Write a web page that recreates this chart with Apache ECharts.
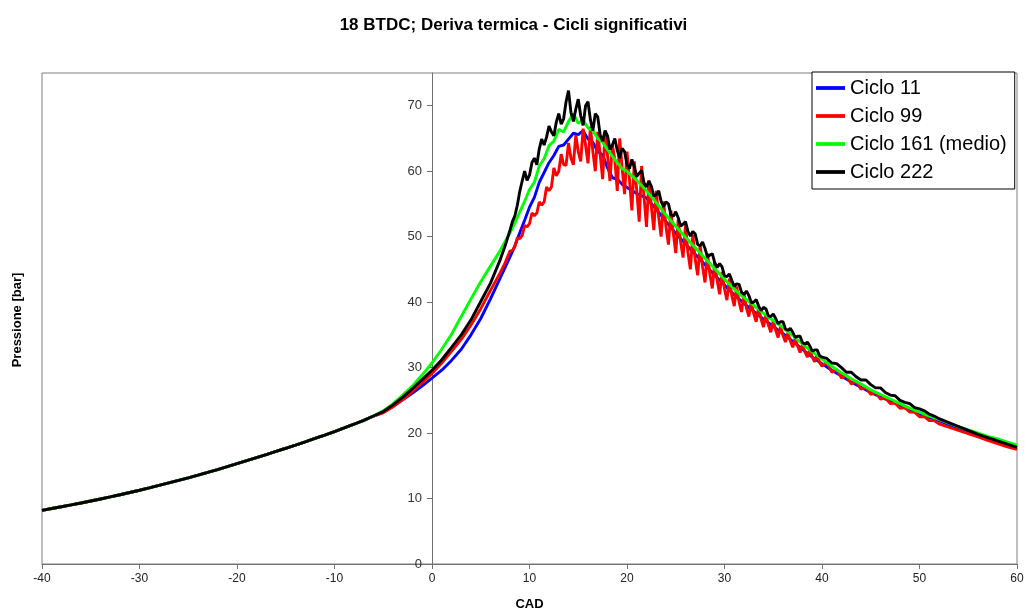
<!DOCTYPE html>
<html>
<head>
<meta charset="utf-8">
<script src="https://cdn.jsdelivr.net/npm/echarts@6/dist/echarts.min.js"></script>
<style>
html,body{margin:0;padding:0;background:#fff;}
#chart{width:1027px;height:616px;}
</style>
</head>
<body>
<div id="chart"></div>
<script>
// ---- Data ----
const titleText = '18 BTDC; Deriva termica - Cicli significativi';
const seriesNames = ['Ciclo 11', 'Ciclo 99', 'Ciclo 161 (medio)', 'Ciclo 222'];
const xTicks = [-40, -30, -20, -10, 0, 10, 20, 30, 40, 50, 60];
const yTicks = [0, 10, 20, 30, 40, 50, 60, 70];

// Compression stroke, shared by all cycles (curves overlap)
const cadComp = [-40,-39,-38,-37,-36,-35,-34,-33,-32,-31,-30,-29,-28,-27,-26,-25,-24,-23,-22,-21,
  -20,-19,-18,-17,-16,-15,-14,-13,-12,-11,-10,-9,-8,-7,-6];
const pComp   = [8.20,8.47,8.75,9.03,9.32,9.62,9.93,10.25,10.58,10.92,11.27,11.63,12.00,12.38,12.77,13.17,13.58,14.00,14.43,14.87,
  15.32,15.78,16.25,16.72,17.20,17.68,18.17,18.67,19.18,19.70,20.23,20.78,21.35,21.95,22.60];

// Grid for the smoother curves (Ciclo 11, Ciclo 161)
const cadSmooth = [-5,-4,-3,-2,-1,0,1,2,3,4,5,6,7,8,
  8.5,9,9.5,10,10.5,11,11.5,12,12.5,13,13.5,14,14.5,15,15.5,16,16.5,17,17.5,18,18.5,19,19.5,20,
  21,22,23,24,25,26,27,28,29,30,31,32,33,34,35,36,37,38,39,40,
  41,42,43,44,45,46,47,48,49,50,51,52,53,54,55,56,57,58,59,60];

const pCiclo11 = [23.2,24.1,25.1,26.1,27.2,28.4,29.6,31.1,32.8,35.0,37.5,40.5,43.7,46.9,
  48.6,50.6,52.5,54.5,56.0,58.3,59.8,61.3,62.4,63.8,64.0,64.9,65.8,65.6,66.2,64.9,64.4,63.0,62.5,60.5,59.0,58.8,58.0,57.5,
  56.6,55.9,54.2,52.3,50.5,48.9,47.3,45.7,44.1,42.6,41.1,39.8,38.6,37.4,36.3,35.2,34.0,32.8,31.6,30.6,
  29.6,28.7,27.8,27.0,26.2,25.5,24.9,24.2,23.5,22.9,22.4,21.9,21.3,20.8,20.3,19.8,19.3,18.8,18.3,17.8];

const pCiclo161 = [23.4,24.5,25.8,27.2,28.9,30.7,32.8,35.1,37.8,40.5,43.1,45.5,47.9,50.6,
  52.1,53.8,55.4,57.2,58.3,60.8,61.9,63.9,64.6,66.4,66.0,67.6,68.8,67.3,67.8,66.6,66.2,65.0,64.4,63.3,62.3,61.3,60.4,60.0,
  58.6,57.0,55.2,53.3,51.6,49.9,48.3,46.7,45.1,43.5,42.0,40.7,39.5,38.3,37.2,36.1,34.9,33.6,32.4,31.3,
  30.2,29.2,28.3,27.5,26.6,25.9,25.2,24.5,23.8,23.2,22.6,22.1,21.5,21.0,20.5,20.0,19.5,19.1,18.6,18.2];

// Fine grid for the noisy curves (Ciclo 99, Ciclo 222)
const cadFine = [-5,-4,-3,-2,-1,0,1,2,3,4,5,6,7,7.5,
  8,8.25,8.5,8.75, 9,9.25,9.5,9.75, 10,10.25,10.5,10.75, 11,11.25,11.5,11.75,
  12,12.25,12.5,12.75, 13,13.25,13.5,13.75, 14,14.25,14.5,14.75, 15,15.25,15.5,15.75,
  16,16.25,16.5,16.75, 17,17.25,17.5,17.75, 18,18.25,18.5,18.75, 19,19.25,19.5,19.75,
  20,20.25,20.5,20.75, 21,21.25,21.5,21.75, 22,22.25,22.5,22.75, 23,23.25,23.5,23.75,
  24,24.25,24.5,24.75, 25,25.25,25.5,25.75, 26,26.25,26.5,26.75, 27,27.25,27.5,27.75,
  28,28.25,28.5,28.75, 29,29.25,29.5,29.75, 30,30.25,30.5,30.75, 31,31.25,31.5,31.75,
  32,32.25,32.5,32.75, 33,33.25,33.5,33.75, 34,34.25,34.5,34.75, 35,35.25,35.5,35.75,
  36,36.25,36.5,36.75, 37,37.25,37.5,37.75, 38,38.25,38.5,38.75, 39,39.25,39.5,39.75, 40,
  40.5,41,41.5,42,42.5,43,43.5,44,44.5,45,45.5,46,46.5,47,47.5,48,48.5,49,49.5,50,50.5,51,51.5,52,
  53,54,55,56,57,58,59,60];

const pCiclo99 = [23.1,24.0,25.1,26.4,27.7,29.1,30.7,32.5,34.3,36.5,39.0,41.8,44.5,46.0,
  47.8,47.9,48.5,49.8, 49.7,50.2,51.7,51.5, 52.0,53.6,53.2,53.6, 55.3,54.8,55.3,57.6,
  57.0,57.6,60.5,59.3, 60.0,62.6,61.0,60.9, 64.3,62.0,61.0,65.5, 63.0,61.5,66.5,64.0,
  61.2,66.8,63.0,60.0, 66.0,62.5,58.8,65.8, 62.5,58.5,64.0,61.8, 57.0,65.0,60.5,56.5,
  63.0,58.8,54.0,61.5, 57.0,52.3,60.8,56.0, 51.5,58.6,54.6,51.0, 57.0,53.0,50.0,55.4,
  51.5,48.8,54.0,50.5, 47.5,52.6,49.2,46.8, 51.8,47.6,45.0,50.3, 46.5,44.1,48.8,45.4,
  43.0,47.4,44.3,42.1, 46.1,43.3,41.2,44.6, 42.0,40.3,43.6,41.0, 39.4,42.4,40.0,38.5,
  41.3,39.1,37.8,40.2, 38.2,37.0,39.2,37.4, 36.2,38.1,36.5,35.4, 37.2,35.7,34.6,36.2,
  34.9,33.9,35.3,34.1, 33.1,34.5,33.3,32.3, 33.6,32.4,31.6,32.8, 31.6,30.9,32.0,30.8, 30.2,
  30.9,29.3,29.7,28.4,28.8,27.5,27.9,26.7,27.0,25.9,26.2,25.2,25.4,24.5,24.6,23.8,23.9,23.2,23.2,22.5,22.5,21.9,21.9,21.4,
  20.9,20.4,19.9,19.4,18.9,18.4,17.9,17.5];

const pCiclo222 = [23.3,24.3,25.5,26.8,28.2,29.6,31.2,33.1,35.0,37.3,40.1,42.9,46.5,48.6,
  51.0,52.3,53.2,54.8, 56.9,58.5,60.0,58.6, 59.4,61.3,62.0,61.0, 63.4,64.9,64.0,65.2,
  66.9,66.0,65.4,67.5, 68.8,67.2,68.0,70.6, 72.3,69.0,67.6,69.5, 71.0,68.5,67.0,70.0,
  70.6,67.8,66.2,68.8, 68.3,65.5,64.6,66.2, 65.4,63.3,64.0,65.0, 63.2,62.0,63.5,63.0,
  61.0,60.4,61.8,60.6, 59.2,59.7,60.1,58.2, 57.6,58.5,57.7,56.2, 56.4,57.0,55.4,54.6,
  55.3,55.0,53.4,53.1, 53.8,52.9,51.6,51.9, 52.3,50.8,50.1,50.8, 50.4,48.8,48.6,49.2,
  48.2,46.9,47.2,47.4, 46.0,45.3,45.9,45.4, 44.0,43.9,44.3,43.3, 42.4,42.8,42.7,41.5,
  41.2,41.7,41.0,39.9, 40.0,40.4,39.4,38.7, 39.2,39.0,37.9,37.8, 38.2,37.5,36.7,37.0,
  37.0,35.9,35.7,36.0, 35.4,34.6,34.8,34.8, 33.8,33.6,33.9,33.3, 32.5,32.7,32.7,31.8, 31.6,
  31.4,30.7,30.6,30.0,29.3,29.3,28.6,28.1,28.1,27.4,26.9,26.9,26.2,25.8,25.7,25.0,24.7,24.5,23.9,23.7,23.4,22.9,22.6,22.2,
  21.6,21.0,20.4,19.8,19.3,18.8,18.3,17.8];

const seriesColors = ['#0000ff', '#ff0000', '#00ff00', '#000000'];

// ---- Build ----
function pairs(xs, ys) { return xs.map((x, i) => [x, ys[i]]); }
const comp = pairs(cadComp, pComp);
const seriesData = [
  comp.concat(pairs(cadSmooth, pCiclo11)),
  comp.concat(pairs(cadFine, pCiclo99)),
  comp.concat(pairs(cadSmooth, pCiclo161)),
  comp.concat(pairs(cadFine, pCiclo222))
];

const chart = echarts.init(document.getElementById('chart'), null, {renderer: 'canvas'});
const font = 'Liberation Sans, Arial, sans-serif';

// plot area: left 42, right edge 1017 -> width 975 for x in [-40, 60]
const gridLeft = 42, gridRight = 10, plotWidth = 1027 - gridLeft - gridRight;
const zeroOffset = plotWidth * (0 - (-40)) / (60 - (-40));

chart.setOption({
  animation: false,
  backgroundColor: '#ffffff',
  title: {
    text: titleText,
    left: 'center',
    top: 12,
    textStyle: {fontFamily: font, fontSize: 17, fontWeight: 'bold', color: '#000'}
  },
  legend: {
    orient: 'vertical',
    left: 812,
    top: 72,
    padding: [6, 8, 7, 4],
    itemGap: 8,
    itemWidth: 29,
    itemHeight: 14,
    backgroundColor: '#ffffff',
    borderColor: '#000000',
    borderWidth: 1,
    borderRadius: 0,
    textStyle: {fontFamily: font, fontSize: 20, color: '#000', lineHeight: 20},
    data: seriesNames.map(n => ({name: n, icon: 'path://M0,0 L10,0 L10,1.3 L0,1.3 Z'}))
  },
  grid: {
    left: gridLeft, right: gridRight, top: 73, bottom: 50,
    show: true, borderColor: '#808080', borderWidth: 1, backgroundColor: 'transparent'
  },
  xAxis: {
    type: 'value',
    min: -40, max: 60, interval: 10,
    name: 'CAD',
    nameLocation: 'middle',
    nameGap: 34,
    nameTextStyle: {fontFamily: font, fontSize: 13, fontWeight: 'bold', color: '#000'},
    axisLine: {onZero: false, lineStyle: {color: '#707070', width: 1}},
    axisTick: {show: true, inside: false, length: 5, lineStyle: {color: '#707070'}},
    axisLabel: {fontFamily: font, fontSize: 12, color: '#222', margin: 9, customValues: xTicks},
    splitLine: {show: false}
  },
  yAxis: {
    type: 'value',
    position: 'left',
    offset: -zeroOffset,
    min: 0, max: 75, interval: 10,
    axisLine: {show: true, onZero: false, lineStyle: {color: '#707070', width: 1}},
    axisTick: {show: true, inside: false, length: 5, lineStyle: {color: '#707070'}, customValues: yTicks},
    axisLabel: {fontFamily: font, fontSize: 13, color: '#333', margin: 10, customValues: yTicks},
    splitLine: {show: false}
  },
  graphic: [{
    type: 'text',
    x: 17, y: 320,
    rotation: Math.PI / 2,
    style: {
      text: 'Pressione [bar]',
      fontFamily: font, fontSize: 13, fontWeight: 'bold', fill: '#000',
      align: 'center', verticalAlign: 'middle'
    }
  }],
  series: seriesNames.map((n, i) => ({
    name: n,
    type: 'line',
    data: seriesData[i],
    symbol: 'none',
    showSymbol: false,
    smooth: false,
    z: 2 + i,
    lineStyle: {color: seriesColors[i], width: 2.9},
    itemStyle: {color: seriesColors[i]}
  }))
});
</script>
</body>
</html>
